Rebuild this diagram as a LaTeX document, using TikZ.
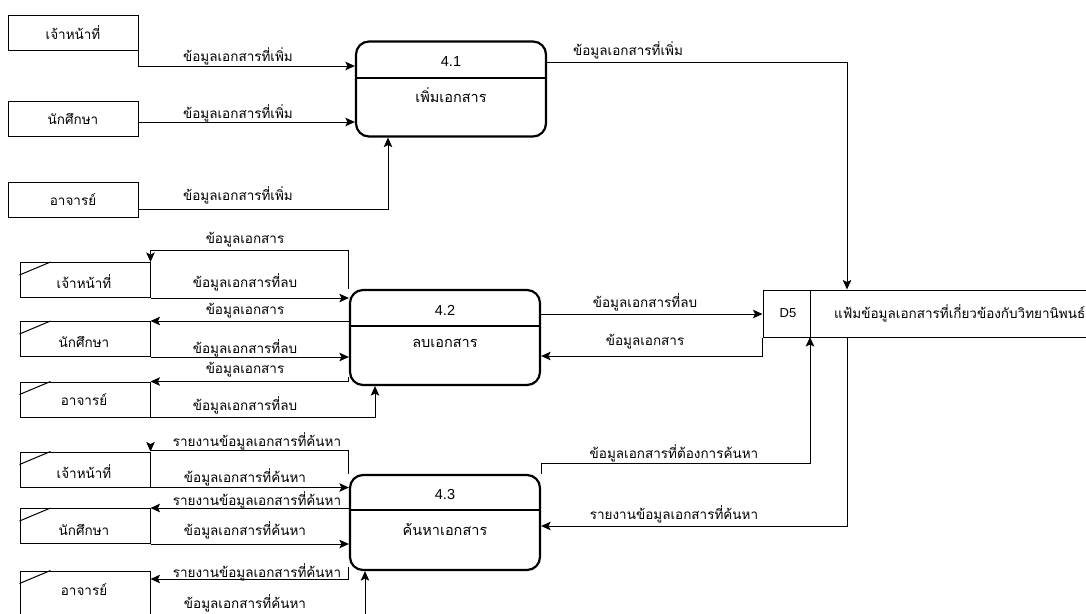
\documentclass[tikz,border=0pt]{standalone}
\usepackage{fontspec}
\setmainfont{Liberation Sans}
\newfontfamily\thai[Script=Thai]{Loma}
\usetikzlibrary{arrows.meta,calc}
\begin{document}
\begin{tikzpicture}[x=1pt,y=-1pt,
  thaitxt/.style={font=\thai\fontsize{13.5}{15}\selectfont},
  enttxt/.style={font=\thai\fontsize{13.5}{15}\selectfont,inner sep=0pt},
  ent/.style={draw,line width=1pt,minimum width=130pt,minimum height=35pt,inner sep=0pt},
  proc/.style={draw,line width=2.2pt,rounded corners=13pt,minimum width=190pt,minimum height=95pt,inner sep=0pt},
  flow/.style={line width=1pt,-{Stealth[length=9.5pt,width=8.5pt,inset=2pt]}},
  lbl/.style={thaitxt,inner sep=0pt},
  pnum/.style={font=\fontsize{14.5}{16}\selectfont,inner sep=0pt},
  pname/.style={font=\thai\fontsize{14.5}{16}\selectfont,inner sep=0pt},
  dup/.style={line width=1pt}
]
\useasboundingbox (0,0) rectangle (1086,613);
\fill[white] (0,0) rectangle (1086,613);
\clip (0,0) rectangle (1086,613);

% external entities (top group)
\node[ent] (e1) at (73,32.5) {};
\node[ent] (e2) at (73,118.5) {};
\node[ent] (e3) at (73,199.5) {};
\node[enttxt] (e1t) at (73,33) {เจ้าหน้าที่};
\node[enttxt] (e2t) at (73,119) {นักศึกษา};
\node[enttxt] (e3t) at (73,200) {อาจารย์};

% duplicate entities (4.2 group)
\node[ent] (f1) at (85,280) {};
\node[ent] (f2) at (85,339) {};
\node[ent] (f3) at (85,399.5) {};
\node[enttxt] (f1t) at (84,282) {เจ้าหน้าที่};
\node[enttxt] (f2t) at (84,342) {นักศึกษา};
\node[enttxt] (f3t) at (84,400) {อาจารย์};

% duplicate entities (4.3 group)
\node[ent] (g1) at (85,469.5) {};
\node[ent] (g2) at (85,526) {};
\node[ent,minimum height=44pt] (g3) at (85,593) {};
\node[enttxt] (g1t) at (84,472) {เจ้าหน้าที่};
\node[enttxt] (g2t) at (84,530) {นักศึกษา};
\node[enttxt] (g3t) at (84,590) {อาจารย์};

\foreach \n in {f1,f2,f3,g1,g2,g3}{
  \draw[dup] ($(\n.north west)+(0,13)$) -- ($(\n.north west)+(31,0)$);
}

% processes
\node[proc] (p1) at (451,89) {};
\draw[line width=1.8pt] (p1.west |- 0,78) -- (p1.east |- 0,78);
\node[pnum] (p1n) at (451,62) {4.1};
\node[pname] (p1t) at (451,95) {เพิ่มเอกสาร};

\node[proc] (p2) at (445,337.5) {};
\draw[line width=1.8pt] (p2.west |- 0,326) -- (p2.east |- 0,326);
\node[pnum] (p2n) at (445,310) {4.2};
\node[pname] (p2t) at (445,343) {ลบเอกสาร};

\node[proc] (p3) at (445,522.5) {};
\draw[line width=1.8pt] (p3.west |- 0,510) -- (p3.east |- 0,510);
\node[pnum] (p3n) at (445,495) {4.3};
\node[pname] (p3t) at (445,529) {ค้นหาเอกสาร};

% data store D5
\node[draw,line width=1pt,minimum width=337pt,minimum height=47pt,inner sep=0pt] (d5) at (931.5,313.5) {};
\draw[line width=1pt] (810,0 |- d5.north) -- (810,0 |- d5.south);
\node[font=\fontsize{13}{15}\selectfont,inner sep=0pt] (d5n) at (788,313) {D5};
\node[lbl,anchor=west] (d5t) at (834,313) {แฟ้มข้อมูลเอกสารที่เกี่ยวข้องกับวิทยานิพนธ์};
\coordinate (d5in) at (810,337);
\coordinate (d5out) at (847,337);

% flows into 4.1
\draw[flow] (e1.south east) |- (p1.west |- 0,66);
\node[lbl] (l1) at (238,56) {ข้อมูลเอกสารที่เพิ่ม};
\draw[flow] (e2.east |- 0,122) -- (p1.west |- 0,122);
\node[lbl] (l2) at (238,113) {ข้อมูลเอกสารที่เพิ่ม};
\draw[flow] (e3.east |- 0,209) -| (388,0 |- p1.south);
\node[lbl] (l3) at (238,195) {ข้อมูลเอกสารที่เพิ่ม};

% 4.1 -> D5
\draw[flow] (p1.east |- 0,62) -| (847,0 |- d5.north);
\node[lbl] (l4) at (628,50) {ข้อมูลเอกสารที่เพิ่ม};

% 4.2 <-> D5
\draw[flow] (p2.east |- 0,314) -- (d5.west |- 0,314);
\node[lbl] (l5) at (645,302) {ข้อมูลเอกสารที่ลบ};
\draw[flow] (d5.south west) |- (p2.east |- 0,356);
\node[lbl] (l6) at (645,342) {ข้อมูลเอกสาร};

% 4.3 <-> D5
\draw[flow] (p3.north east) |- (810,463) -- (d5in);
\node[lbl] (l7) at (674,453) {ข้อมูลเอกสารที่ต้องการค้นหา};
\draw[flow] (d5out) |- (p3.east |- 0,526);
\node[lbl] (l8) at (674,514) {รายงานข้อมูลเอกสารที่ค้นหา};

% 4.2 group
\draw[flow] (p2.north west) -- ++(0,-38) -| (f1.north east);
\node[lbl] (m1) at (245,240) {ข้อมูลเอกสาร};
\draw[flow] (f1.south east) -- (p2.west |- f1.south);
\node[lbl] (m2) at (245,282) {ข้อมูลเอกสารที่ลบ};
\draw[flow] (p2.west |- f2.north) -- (f2.north east);
\node[lbl] (m3) at (245,311) {ข้อมูลเอกสาร};
\draw[flow] (f2.south east) -- (p2.west |- f2.south);
\node[lbl] (m4) at (245,348) {ข้อมูลเอกสารที่ลบ};
\draw[flow] (p2.west |- 0,377) |- (f3.north east);
\node[lbl] (m5) at (245,370) {ข้อมูลเอกสาร};
\draw[flow] (f3.south east) -| (375,0 |- p2.south);
\node[lbl] (m6) at (245,405) {ข้อมูลเอกสารที่ลบ};

% 4.3 group
\draw[flow] (p3.north west) -- ++(0,-23) -| (g1.north east);
\node[lbl] (n1) at (257,441) {รายงานข้อมูลเอกสารที่ค้นหา};
\draw[flow] (g1.south east) -- (p3.west |- g1.south);
\node[lbl] (n2) at (245,477) {ข้อมูลเอกสารที่ค้นหา};
\draw[flow] (p3.west |- g2.north) -- (g2.north east);
\node[lbl] (n3) at (257,500) {รายงานข้อมูลเอกสารที่ค้นหา};
\draw[flow] (g2.south east) -- (p3.west |- g2.south);
\node[lbl] (n4) at (245,530) {ข้อมูลเอกสารที่ค้นหา};
\draw[flow] (p3.west |- 0,567) |- (g3.east |- 0,579);
\node[lbl] (n5) at (257,572) {รายงานข้อมูลเอกสารที่ค้นหา};
\draw[flow] (g3.south east) -| (365,0 |- p3.south);
\node[lbl] (n6) at (245,603) {ข้อมูลเอกสารที่ค้นหา};
\end{tikzpicture}
\end{document}
